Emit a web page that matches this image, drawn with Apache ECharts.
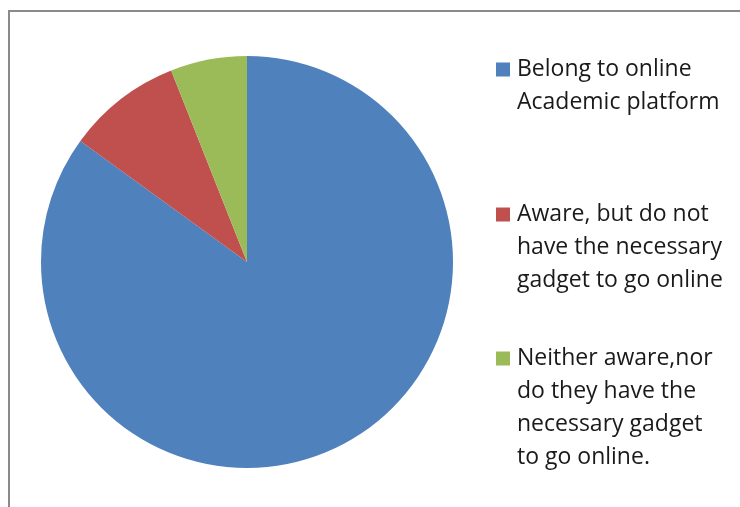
<!DOCTYPE html>
<html>
<head>
<meta charset="utf-8">
<title>Online platform awareness</title>
<script src="https://cdn.jsdelivr.net/npm/echarts@6/dist/echarts.min.js"></script>
<style>
  html, body { margin: 0; padding: 0; background: #ffffff; }
  #chart { width: 740px; height: 507px; }
</style>
</head>
<body>
<div id="chart"></div>
<script>
// Response groups and their share of respondents (%)
const categories = [
  'Belong to online Academic platform',
  'Aware, but do not have the necessary gadget to go online',
  'Neither aware,nor do they have the necessary gadget to go online.'
];
const values = [85, 9, 6];

// Legend text, broken into the lines it is shown on
const legendLines = [
  ['Belong to online', 'Academic platform'],
  ['Aware, but do not', 'have the necessary', 'gadget to go online'],
  ['Neither aware,nor', 'do they have the', 'necessary gadget', 'to go online.']
];

const colors = ['#4F81BD', '#C0504D', '#9BBB59'];
const FONT = '"Open Sans", "Noto Sans", sans-serif';
const FONT_SIZE = 23;
const LINE_H = 33;
const legendTops = [53, 198, 342];

const chart = echarts.init(document.getElementById('chart'), null, { renderer: 'canvas' });

// Each legend entry gets its own block so the entries are spaced evenly;
// the swatch is drawn inline so it sits beside the first line of text.
const legends = categories.map((name, i) => ({
  orient: 'vertical',
  left: 491,
  top: legendTops[i],
  padding: 0,
  itemGap: 0,
  itemWidth: 0,
  itemHeight: 14,
  icon: 'none',
  data: [name],
  selectedMode: false,
  formatter: () => legendLines[i]
    .map((line, j) => (j === 0 ? '{sw|}{gap|}' : '{ind|}') + '{t|' + line + '}')
    .join('\n'),
  textStyle: {
    fontFamily: FONT,
    fontSize: FONT_SIZE,
    lineHeight: LINE_H,
    color: '#1a1a1a',
    rich: {
      sw: { width: 14, height: 14, backgroundColor: colors[i], lineHeight: LINE_H, verticalAlign: 'middle' },
      gap: { width: 7, lineHeight: LINE_H },
      ind: { width: 21, lineHeight: LINE_H },
      t: { fontFamily: FONT, fontSize: FONT_SIZE, lineHeight: LINE_H, color: '#1a1a1a' }
    }
  }
}));

chart.setOption({
  animation: false,
  backgroundColor: '#ffffff',
  color: colors,
  graphic: [{
    type: 'rect',
    shape: { x: 9, y: 11, width: 900, height: 700 },
    style: { fill: 'none', stroke: '#8a8a8a', lineWidth: 2 },
    silent: true,
    z: -1
  }],
  legend: legends,
  series: [{
    type: 'pie',
    center: [247, 262],
    radius: 206,
    startAngle: 90,
    clockwise: true,
    label: { show: false },
    labelLine: { show: false },
    emphasis: { disabled: true },
    itemStyle: { borderWidth: 0 },
    data: categories.map((name, i) => ({ name: name, value: values[i] }))
  }]
});
</script>
</body>
</html>
